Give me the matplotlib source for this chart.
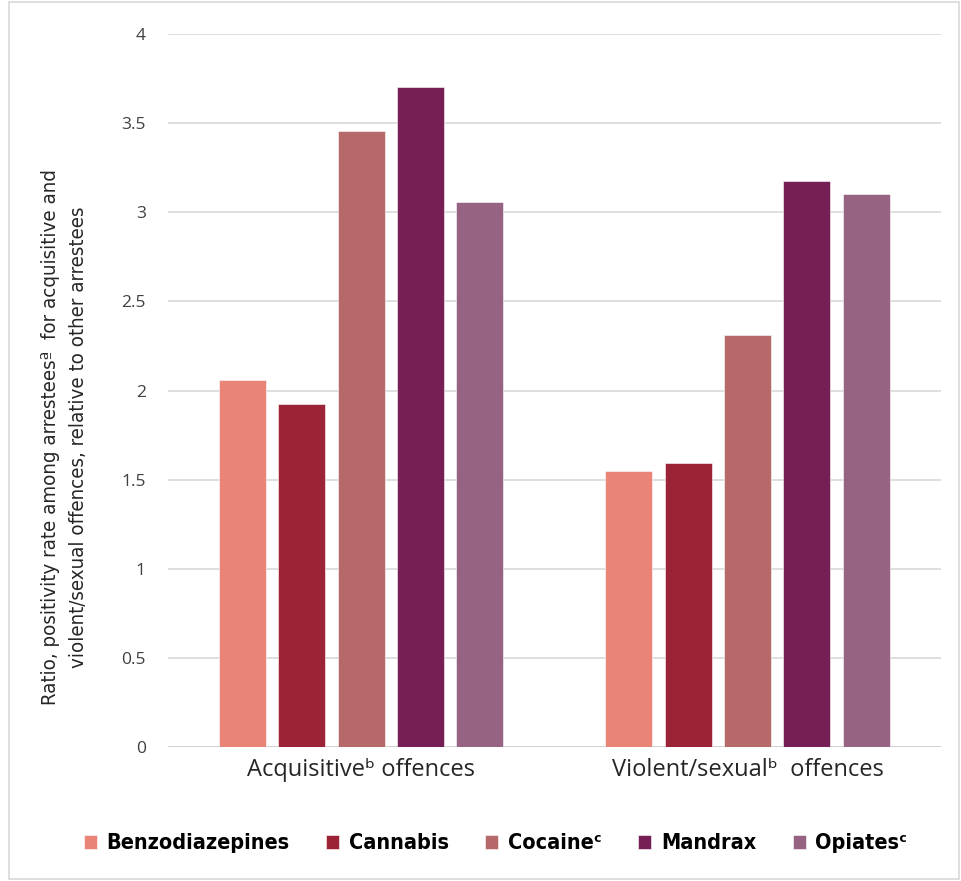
import matplotlib
matplotlib.use("Agg")
import matplotlib.pyplot as plt
import numpy as np

# data
groups = ["Acquisitiveᵇ offences", "Violent/sexualᵇ  offences"]
drugs = ["Benzodiazepines", "Cannabis", "Cocaineᶜ", "Mandrax", "Opiatesᶜ"]
benzo = [2.06, 1.55]
cannabis = [1.925, 1.595]
cocaine = [3.455, 2.31]
mandrax = [3.70, 3.175]
opiates = [3.055, 3.10]
colors = ["#E98577", "#9B2335", "#B56968", "#761F57", "#976383"]
yticks = [0, 0.5, 1, 1.5, 2, 2.5, 3, 3.5, 4]
ylab = "Ratio, positivity rate among arresteesª  for acquisitive and\nviolent/sexual offences, relative to other arrestees"

plt.rcParams['font.family'] = ["Open Sans", "DejaVu Sans"]

fig = plt.figure(figsize=(9.61, 8.81), dpi=100)
ax = fig.add_axes([0.1748, 0.152, 0.8042, 0.8094])

series = [benzo, cannabis, cocaine, mandrax, opiates]
x = np.arange(len(groups))
step = 0.1535
w = 0.1216
for i, vals in enumerate(series):
    ax.bar(x + (i - 2) * step, vals, w, color=colors[i], label=drugs[i],
           edgecolor="white", linewidth=0.4, zorder=3)

ax.set_xlim(-0.5, 1.5)
ax.set_ylim(0, 4)
ax.set_yticks(yticks)
ax.set_yticklabels([f"{t:g}" for t in yticks], fontsize=12.5, color="#404040")
ax.set_xticks(x)
ax.set_xticklabels(groups, fontsize=17, color="#262626")
ax.tick_params(axis="both", length=0, pad=8)
ax.tick_params(axis="y", pad=16)
ax.grid(axis="y", color="#D9D9D9", linewidth=1.2, zorder=0)
for s in ax.spines.values():
    s.set_visible(False)
ax.axhline(0, color="#D0D0D0", linewidth=1.4, zorder=2)

ax.set_ylabel(ylab, fontsize=14.7, family="DejaVu Sans", fontstretch="condensed",
              color="#262626", linespacing=1.65)
ax.yaxis.set_label_coords(-0.103, 0.435)

leg = ax.legend(loc="center", bbox_to_anchor=(0.424, -0.135), ncol=5, frameon=False,
                handlelength=0.6, handleheight=0.6, handletextpad=0.45,
                columnspacing=1.7,
                prop={"family": "DejaVu Sans", "stretch": "condensed", "weight": "bold", "size": 15.5})

fig.patches.append(plt.Rectangle((0.009, 0.002), 0.989, 0.996, transform=fig.transFigure,
                                 fill=False, edgecolor="#D9D9D9", linewidth=1.2))

fig.savefig("out.png", dpi=100)
